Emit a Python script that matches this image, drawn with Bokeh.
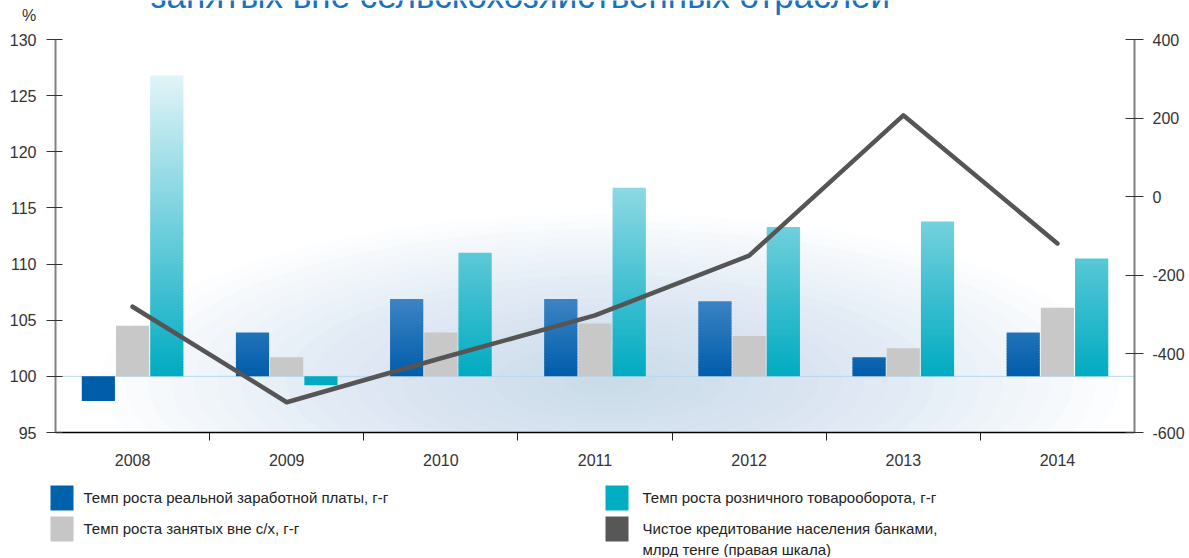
from bokeh.plotting import figure
from bokeh.models import Range1d, LinearAxis, FixedTicker
from bokeh.layouts import column
from bokeh.embed import file_html
from bokeh.resources import INLINE
from bokeh.core.properties import value

# ---------------- data ----------------
years = ["2008", "2009", "2010", "2011", "2012", "2013", "2014"]
wage_growth = [97.8, 103.9, 106.9, 106.9, 106.7, 101.7, 103.9]        # real wage, y/y %
employed_growth = [104.5, 101.7, 103.9, 104.7, 103.6, 102.5, 106.1]   # non-agri employed, y/y %
retail_growth = [126.8, 99.2, 111.0, 116.8, 113.3, 113.8, 110.5]      # retail trade, y/y %
net_credit = [-280, -523, -411, -302, -150, 207, -119]                # bn tenge, right axis
left_ticks = [95, 100, 105, 110, 115, 120, 125, 130]
right_ticks = [-600, -400, -200, 0, 200, 400]
legend_labels = [
    "Темп роста реальной заработной платы, г-г",
    "Темп роста розничного товарооборота, г-г",
    "Темп роста занятых вне с/х, г-г",
    "Чистое кредитование населения банками,",
    "млрд тенге (правая шкала)",
]
unit_label = "%"
title_text = "занятых вне сельскохозяйственных отраслей"

FONT = "Liberation Sans"
BASE = 100.0
W = 1189


def blank_fig(h):
    f = figure(width=W, height=h, x_range=Range1d(0, W), y_range=Range1d(h, 0),
               x_axis_type=None, y_axis_type=None, output_backend="svg",
               toolbar_location=None, min_border=0, min_border_left=0, min_border_right=0,
               min_border_top=0, min_border_bottom=0)
    f.outline_line_color = None
    f.grid.visible = False
    f.frame_align = False
    return f


# ---------------- top strip: unit + (cropped) heading ----------------
top = blank_fig(25)
top.text(x=[28.5], y=[15], text=[unit_label], text_font=value(FONT), text_font_size="16px",
         text_color="#333333", text_align="center", text_baseline="middle")
top.text(x=[150], y=[-5], text=[title_text], text_font=value(FONT), text_font_size="35px",
         text_color="#1a72bd", text_align="left", text_baseline="alphabetic")

# ---------------- main chart ----------------
p = figure(width=W, height=450, x_range=Range1d(0, 7), y_range=Range1d(95, 130),
           x_axis_type=None, y_axis_type=None, output_backend="svg", toolbar_location=None,
           min_border_left=55, min_border_right=55, min_border_top=14, min_border_bottom=43)
p.outline_line_color = None
p.grid.visible = False
p.frame_align = False
p.extra_y_ranges = {"credit": Range1d(-600, 400)}

# soft glow background
for k in range(22):
    s = 1 - k / 22
    p.ellipse(x=3.6, y=99.5, width=6.6 * s, height=30 * s,
              fill_color=(188, 210, 236), fill_alpha=0.04, line_color=None)

yl = LinearAxis(ticker=FixedTicker(ticks=left_ticks, minor_ticks=[]),
                axis_line_color="#808080", axis_line_width=2,
                major_tick_in=7, major_tick_out=9, major_tick_line_color="#333333",
                major_label_text_font=FONT, major_label_text_font_size="16px",
                major_label_text_color="#333333", major_label_standoff=10)
p.add_layout(yl, "left")
yr = LinearAxis(y_range_name="credit", ticker=FixedTicker(ticks=right_ticks, minor_ticks=[]),
                major_label_overrides={t: str(t) for t in right_ticks},
                axis_line_color="#808080", axis_line_width=2,
                major_tick_in=9, major_tick_out=9, major_tick_line_color="#333333",
                major_label_text_font=FONT, major_label_text_font_size="16px",
                major_label_text_color="#333333", major_label_standoff=9)
p.add_layout(yr, "right")
centers = [i + 0.5 for i in range(len(years))]
bounds = [float(i) for i in range(1, len(years))]
xb = LinearAxis(ticker=FixedTicker(ticks=centers, minor_ticks=bounds),
                major_label_overrides={c: y for c, y in zip(centers, years)},
                axis_line_color="black", axis_line_width=1.5,
                major_tick_in=0, major_tick_out=0,
                minor_tick_in=0, minor_tick_out=8, minor_tick_line_color="#222222",
                major_label_text_font=FONT, major_label_text_font_size="16px",
                major_label_text_color="#333333", major_label_standoff=13)
p.add_layout(xb, "below")

p.line(x=[0, 7], y=[BASE, BASE], line_color="#b5d8ef", line_width=1)

BW = 0.215
OFF = 0.222


def lerp(c0, c1, f):
    f = max(0.0, min(1.0, f))
    return "#%02x%02x%02x" % tuple(int(round(a + (b - a) * f)) for a, b in zip(c0, c1))


def gradient_bars(vals, off, c0, c1, vtop):
    L, R, B, T, C = [], [], [], [], []
    for i, v in enumerate(vals):
        x = i + 0.5 + off
        if v < BASE:
            L.append(x - BW / 2); R.append(x + BW / 2); B.append(v); T.append(BASE)
            C.append(lerp(c0, c1, 0))
            continue
        n = max(1, int(round((v - BASE) / 0.25)))
        for k in range(n):
            b = BASE + (v - BASE) * k / n
            t = BASE + (v - BASE) * (k + 1) / n
            L.append(x - BW / 2); R.append(x + BW / 2); B.append(b)
            T.append(min(v, t + 0.08))
            C.append(lerp(c0, c1, ((b + t) / 2 - BASE) / (vtop - BASE)))
    p.quad(left=L, right=R, bottom=B, top=T, fill_color=C, line_color=None)


gradient_bars(wage_growth, -OFF, (0, 93, 170), (62, 132, 196), 107.0)
p.vbar(x=centers, top=employed_growth, bottom=BASE, width=BW,
       fill_color="#c8c8c8", line_color=None)
gradient_bars(retail_growth, OFF, (0, 171, 193), (226, 244, 248), 126.8)

p.line(x=centers, y=net_credit, y_range_name="credit", line_color="#555555",
       line_width=4.5, line_join="round", line_cap="round")

# ---------------- legend strip ----------------
lg = blank_fig(82)
sw_colors = ["#0062ad", "#00adc1", "#c6c6c6", "#575757"]
sw_left = [50, 605, 50, 605]
sw_top = [10, 10, 41, 41]
lg.quad(left=sw_left, right=[v + 23 for v in sw_left], top=sw_top,
        bottom=[v + 25 for v in sw_top], fill_color=sw_colors, line_color=None)
tx = [83, 642, 83, 642, 642]
ty = [22, 22, 53, 53, 74]
lg.text(x=tx, y=ty, text=legend_labels, text_font=value(FONT), text_font_size="15px",
        text_color="#222222", text_align="left", text_baseline="middle")

layout = column(top, p, lg, spacing=0)
open("out.html", "w").write(file_html(layout, INLINE))
